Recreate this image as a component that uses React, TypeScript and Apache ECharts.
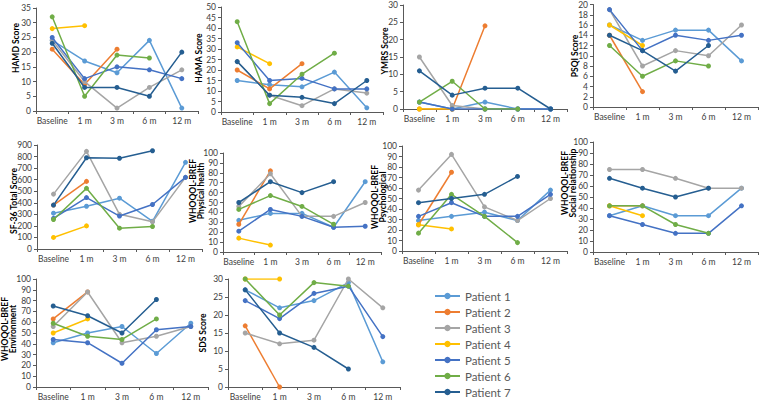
import React, { useEffect, useRef } from "react";
import * as echarts from "echarts";

const categories = ["Baseline", "1 m", "3 m", "6 m", "12 m"];
const patients = ["Patient 1", "Patient 2", "Patient 3", "Patient 4", "Patient 5", "Patient 6", "Patient 7"];
const colors = ["#5B9BD5", "#ED7D31", "#A5A5A5", "#FFC000", "#4472C4", "#70AD47", "#255E91"];

type V = number | null;
const hamd: V[][] = [
  [24, 17, 13, 24, 1],
  [21, 9, 21, null, null],
  [24, 10, 1, 8, 14],
  [28, 29, null, null, null],
  [25, 11, 15, 14, 11],
  [32, 5, 19, 18, null],
  [23, 8, 8, 5, 20],
];
const hama: V[][] = [
  [15, 13, 12, 19, 2],
  [20, 11, 23, null, null],
  [24, 8, 3, 11, 9],
  [31, 23, null, null, null],
  [33, 15, 16, 11, 11],
  [43, 4, 18, 28, null],
  [24, 8, 7, 4, 15],
];
const ymrs: V[][] = [
  [2, 0, 2, 0, 0],
  [0, 0, 24, null, null],
  [15, 1, 0, 0, null],
  [0, 0, null, null, null],
  [2, 0, 0, 0, 0],
  [2, 8, 0, 0, null],
  [11, 4, 6, 6, 0],
];
const psqi: V[][] = [
  [16, 13, 15, 15, 9],
  [14, 3, null, null, null],
  [19, 8, 11, 10, 16],
  [16, 12, null, null, null],
  [19, 11, 14, 13, 14],
  [12, 6, 9, 8, null],
  [14, 11, 7, 12, null],
];
const sf36: V[][] = [
  [310, 370, 440, 240, 750],
  [380, 585, null, null, null],
  [475, 845, 300, 235, 620],
  [100, 200, null, null, null],
  [265, 445, 285, 385, 620],
  [255, 525, 180, 195, null],
  [380, 790, 785, 850, null],
];
const physical: V[][] = [
  [32, 39, 39, 25, 71],
  [28, 82, null, null, null],
  [46, 79, 36, 36, 50],
  [14, 7, null, null, null],
  [21, 43, 36, 25, 26],
  [43, 57, 46, 28, null],
  [50, 71, 60, 71, null],
];
const psychological: V[][] = [
  [29, 33, 37, 29, 58],
  [25, 75, null, null, null],
  [58, 92, 42, 29, 50],
  [25, 21, null, null, null],
  [33, 46, 33, 33, 54],
  [17, 54, 33, 8, null],
  [46, 50, 54, 71, null],
];
const social: V[][] = [
  [33, 42, 33, 33, 58],
  [42, 42, null, null, null],
  [75, 75, 67, 58, 58],
  [42, 33, null, null, null],
  [33, 25, 17, 17, 42],
  [42, 42, 25, 17, null],
  [67, 58, 50, 58, null],
];
const environment: V[][] = [
  [41, 50, 56, 31, 59],
  [63, 88, null, null, null],
  [56, 88, 41, 47, 56],
  [50, 63, null, null, null],
  [44, 41, 22, 53, 56],
  [59, 47, 44, 63, null],
  [75, 66, 50, 81, null],
];
const sds: V[][] = [
  [27, 22, 24, 29, 7],
  [17, 0, null, null, null],
  [15, 12, 13, 30, 22],
  [30, 30, null, null, null],
  [24, 19, 26, 28, 14],
  [30, 20, 29, 28, null],
  [27, 15, 11, 5, null],
];

const axisTitles = [
  "HAMD Score",
  "HAMA Score",
  "YMRS Score",
  "PSQI Score",
  "SF-36 Total Score",
  "WHOQOL-BREF\nPhysical health",
  "WHOQOL-BREF\nPsychological",
  "WHOQOL-BREF\nSocial relationship",
  "WHOQOL-BREF\nEnvironment",
  "SDS Score",
];
const datasets = [hamd, hama, ymrs, psqi, sf36, physical, psychological, social, environment, sds];
const axisMax = [35, 50, 30, 20, 900, 100, 100, 100, 100, 30];
const axisStep = [5, 5, 5, 2, 100, 10, 10, 10, 10, 5];

// layout (pixels): grid box and axis-title centre for each panel
const layout = [
  { left: 36, top: 8, width: 162, height: 103, tx: 15.5, ty: 48 },
  { left: 221, top: 7, width: 162, height: 105, tx: 198.5, ty: 58 },
  { left: 403, top: 5, width: 164, height: 104, tx: 385, ty: 51 },
  { left: 593, top: 3, width: 165, height: 104, tx: 575, ty: 56 },
  { left: 37, top: 145, width: 165, height: 104, tx: 13.5, ty: 201 },
  { left: 223, top: 153, width: 158, height: 99, tx: 196.5, ty: 191 },
  { left: 402, top: 146, width: 165, height: 105, tx: 378.5, ty: 197 },
  { left: 593, top: 142, width: 165, height: 110, tx: 568.5, ty: 183 },
  { left: 36, top: 279, width: 172, height: 108, tx: 9, ty: 329 },
  { left: 228, top: 279, width: 172, height: 108, tx: 202.5, ty: 333 },
];

const FONT = "Lato";
const AXIS_COLOR = "#595959";

export default function App() {
  const ref = useRef<HTMLDivElement>(null);
  useEffect(() => {
    if (!ref.current) return;
    const chart = echarts.init(ref.current, undefined, { renderer: "svg" });
    const grid: any[] = [];
    const xAxis: any[] = [];
    const yAxis: any[] = [];
    const series: any[] = [];
    const graphic: any[] = [];
    datasets.forEach((data, i) => {
      const L = layout[i];
      grid.push({ left: L.left, top: L.top, width: L.width, height: L.height, containLabel: false });
      xAxis.push({
        type: "category",
        gridIndex: i,
        data: categories,
        boundaryGap: true,
        axisLine: { show: true, lineStyle: { color: AXIS_COLOR, width: 1 } },
        axisTick: { show: true, length: 3, lineStyle: { color: AXIS_COLOR } },
        axisLabel: { interval: 0, color: "#404040", fontSize: 8.5, fontFamily: FONT, margin: 5 },
        splitLine: { show: false },
      });
      yAxis.push({
        type: "value",
        gridIndex: i,
        min: 0,
        max: axisMax[i],
        interval: axisStep[i],
        axisLine: { show: true, lineStyle: { color: AXIS_COLOR, width: 1 } },
        axisTick: { show: true, length: 3, lineStyle: { color: AXIS_COLOR } },
        axisLabel: { color: "#404040", fontSize: 8.5, fontFamily: FONT, margin: 5 },
        splitLine: { show: false },
      });
      graphic.push({
        type: "text",
        x: L.tx,
        y: L.ty,
        rotation: Math.PI / 2,
        style: {
          text: axisTitles[i],
          fill: "#000",
          fontSize: 8.5,
          fontWeight: "bold",
          fontFamily: FONT,
          lineHeight: 8,
          align: "center",
          verticalAlign: "middle",
        },
      });
      data.forEach((vals, k) => {
        series.push({
          type: "line",
          name: patients[k],
          xAxisIndex: i,
          yAxisIndex: i,
          data: vals,
          connectNulls: false,
          symbol: "circle",
          symbolSize: 5,
          lineStyle: { color: colors[k], width: 1.5 },
          itemStyle: { color: colors[k] },
          z: 2 + k,
        });
      });
    });
    chart.setOption({
      animation: false,
      backgroundColor: "#fff",
      textStyle: { fontFamily: FONT },
      grid,
      xAxis,
      yAxis,
      series,
      graphic,
      legend: {
        data: patients,
        orient: "vertical",
        left: 434,
        top: 290,
        padding: 0,
        itemWidth: 25,
        itemHeight: 8,
        itemGap: 4,
        textStyle: { color: "#595959", fontSize: 11.5, lineHeight: 11, fontFamily: FONT },
      },
    });
    return () => chart.dispose();
  }, []);
  return (
    <div
      ref={ref}
      style={{ position: "fixed", left: 0, top: 0, width: 768, height: 401 }}
    />
  );
}
